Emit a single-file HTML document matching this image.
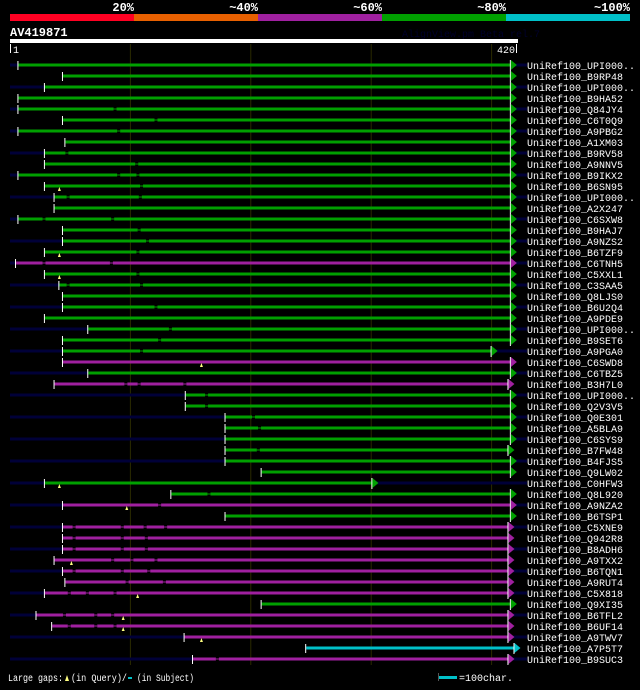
<!DOCTYPE html>
<html><head><meta charset="utf-8"><style>
html,body{margin:0;padding:0;background:#000;}
svg text{font-family:"Liberation Mono","DejaVu Sans Mono",monospace;}
</style></head><body>
<svg id="chart" width="640" height="685" xmlns="http://www.w3.org/2000/svg">
<rect x="0" y="0" width="640" height="685" fill="#000"/>
<g>
<rect x="10" y="14" width="124" height="7" fill="#ff0022"/>
<rect x="134" y="14" width="124" height="7" fill="#e86000"/>
<rect x="258" y="14" width="124" height="7" fill="#a020a0"/>
<rect x="382" y="14" width="124" height="7" fill="#00a000"/>
<rect x="506" y="14" width="124" height="7" fill="#00c0c8"/>
<text x="134" y="11" fill="#fff" font-size="12" font-weight="bold" text-anchor="end">20%</text>
<text x="258" y="11" fill="#fff" font-size="12" font-weight="bold" text-anchor="end">~40%</text>
<text x="382" y="11" fill="#fff" font-size="12" font-weight="bold" text-anchor="end">~60%</text>
<text x="506" y="11" fill="#fff" font-size="12" font-weight="bold" text-anchor="end">~80%</text>
<text x="630" y="11" fill="#fff" font-size="12" font-weight="bold" text-anchor="end">~100%</text>
</g>
<text x="10" y="36" fill="#fff" font-size="12" font-weight="bold">AV419871</text>
<text x="402" y="37" fill="#00002a" font-size="10">AlignView.pm Beta rel.7</text>
<rect x="10" y="39" width="508" height="4" fill="#fff"/>
<rect x="10" y="44" width="1" height="9" fill="#fff"/>
<text x="13" y="53" fill="#fff" font-size="10">1</text>
<text x="515" y="53" fill="#fff" font-size="10" text-anchor="end">420</text>
<rect x="516" y="44" width="1" height="9" fill="#fff"/>
<g id="grid"></g>
<g id="rows"></g>
<g>
<text x="8" y="681" fill="#fff" font-size="10" textLength="55" lengthAdjust="spacingAndGlyphs">Large gaps:</text>
<polygon points="65,681 67,675 69,681" fill="#ffff80"/>
<text x="71" y="681" fill="#fff" font-size="10" textLength="56" lengthAdjust="spacingAndGlyphs">(in Query)/</text>
<rect x="128" y="677" width="4" height="2" fill="#00c0c8"/>
<text x="137" y="681" fill="#fff" font-size="10" textLength="57" lengthAdjust="spacingAndGlyphs">(in Subject)</text>
<rect x="438" y="673" width="1" height="8" fill="#555"/>
<rect x="439" y="676" width="18" height="3" fill="#00c0c8"/>
<text x="459" y="681" fill="#fff" font-size="10">=100char.</text>
</g>
</svg>
<script>
const names=["UPI000..","B9RP48","UPI000..","B9HA52","Q84JY4","C6T0Q9","A9PBG2","A1XM03","B9RV58","A9NNV5","B9IKX2","B6SN95","UPI000..","A2X247","C6SXW8","B9HAJ7","A9NZS2","B6TZF9","C6TNH5","C5XXL1","C3SAA5","Q8LJS0","B6U2Q4","A9PDE9","UPI000..","B9SET6","A9PGA0","C6SWD8","C6TBZ5","B3H7L0","UPI000..","Q2V3V5","Q0E301","A5BLA9","C6SYS9","B7FW48","B4FJS5","Q9LW02","C0HFW3","Q8L920","A9NZA2","B6TSP1","C5XNE9","Q942R8","B8ADH6","A9TXX2","B6TQN1","A9RUT4","C5X818","Q9XI35","B6TFL2","B6UF14","A9TWV7","A7P5T7","B9SUC3"];
const starts=[8,45,30,8,8,45,8,47,30,30,8,30,38,38,8,45,45,30,6,30,42,45,45,30,66,45,45,45,66,38,147,147,180,180,180,180,180,210,30,135,45,180,45,45,45,38,45,47,30,210,23,36,146,247,153];
const ends=[417,417,417,417,417,417,417,417,417,417,417,417,417,417,417,417,417,417,417,417,417,417,417,417,417,417,401,417,417,415,417,417,417,417,417,415,417,417,302,417,417,417,415,415,415,415,415,415,415,417,415,415,415,420,415];
const colors=["g","g","g","g","g","g","g","g","g","g","g","g","g","g","g","g","g","g","m","g","g","g","g","g","g","g","g","m","g","m","g","g","g","g","g","g","g","g","g","g","m","g","m","m","m","m","m","m","m","g","m","m","m","c","m"];
const unaligned=[1,0,1,0,1,0,1,0,1,0,1,0,1,0,1,0,1,0,1,0,1,0,1,0,1,0,1,0,1,0,1,0,1,0,1,0,1,0,1,0,1,0,1,0,1,0,1,0,1,0,1,0,1,0,1];
const queryGaps=[null,null,null,null,null,null,null,null,null,null,null,42,null,null,null,null,null,42,null,42,null,null,null,null,null,null,null,160,null,null,null,null,null,null,null,null,null,null,42,null,98,null,null,null,null,52,null,null,107,null,95,95,160,null,null];
const subjGaps=[[],[],[],[],[87],[121],[90],[],[47],[105],[90,106],[109],[48,108],[],[28,85],[107],[114],[106],[28,84],[106],[48,109],[],[121],[],[133],[124],[109],[],[],[96,107,145],[163],[163],[202],[207],[],[206],[],[],[],[165],[124],[],[53,93,112,129],[53,93,113],[53,93,113],[85,101,121],[53,93,115],[97,128],[49,64,87],[],[45,71,85],[49,71,87],[],[],[172]];
const colMap={g:"#00a000",m:"#a020a0",c:"#00c0c8"};
const X0=10, PX=1.204;
function xs(p){return X0+(p-1)*PX;}
const NS="http://www.w3.org/2000/svg";
function mk(tag,attrs,parent){const e=document.createElementNS(NS,tag);for(const k in attrs)e.setAttribute(k,attrs[k]);parent.appendChild(e);return e;}
const grid=document.getElementById('grid');
const ticks=[100,200,300,400];
ticks.forEach(t=>{
  const l=mk('line',{x1:xs(t+1),x2:xs(t+1),y1:44,y2:665,stroke:"#2a2a00","stroke-width":1},grid);
  
  
});
const rows=document.getElementById('rows');
names.forEach((n,i)=>{
  const y=65+i*11;
  const g=mk('g',{},rows);
  
  
  const sx=xs(starts[i]), ex=xs(ends[i]);
  const col=colMap[colors[i]];
  if(unaligned[i]){
    mk('rect',{x:10,y:y-1.5,width:sx-10,height:3,fill:"#000038"},g);
    mk('rect',{x:ex+4,y:y-1.5,width:Math.max(0,527-ex-4),height:3,fill:"#000038"},g);
  }
  const gaps=subjGaps[i];
  let cur=sx;
  gaps.forEach(gp=>{
    const gx=xs(gp);
    mk('rect',{x:cur,y:y-1.5,width:Math.max(0,gx-cur),height:3,fill:col},g);
    mk('rect',{x:gx,y:y-0.5,width:3,height:1,fill:col},g);
    cur=gx+3;
  });
  mk('rect',{x:cur,y:y-1.5,width:Math.max(0,ex-cur),height:3,fill:col},g);
  mk('rect',{x:sx-1,y:y-4,width:1,height:9,fill:"#fff"},g);
  mk('rect',{x:ex-1,y:y-5,width:1,height:11,fill:"#fff"},g);
  mk('polygon',{points:`${ex},${y-5} ${ex+6},${y} ${ex},${y+5}`,fill:col},g);
  if(queryGaps[i]!==null){
    const qx=xs(queryGaps[i]);
    mk('polygon',{points:`${qx-1.5},${y+5} ${qx},${y+1} ${qx+1.5},${y+5}`,fill:"#ffff80"},g);
  }
  const t=mk('text',{x:527,y:y+4,fill:"#fff","font-size":"10"},g);
  t.textContent='UniRef100_'+n;
  
  
});
</script>
</body></html>
